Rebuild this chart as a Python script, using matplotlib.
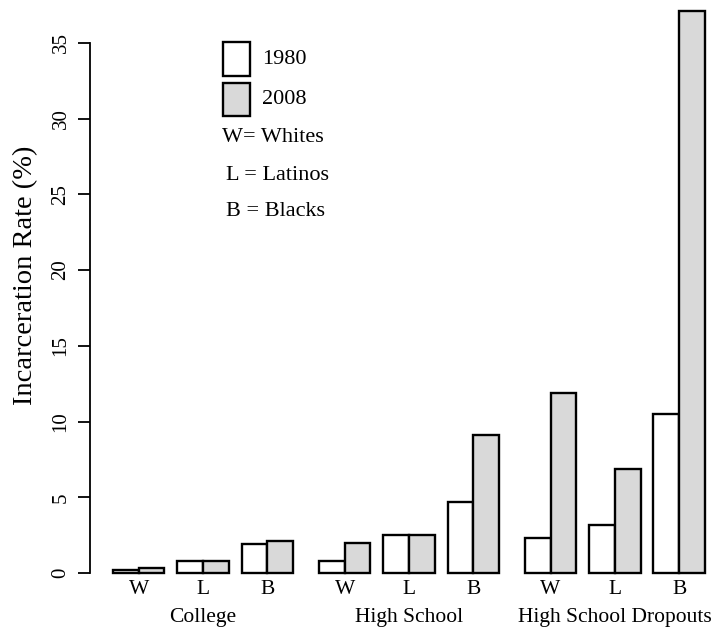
import matplotlib
matplotlib.use("Agg")
import matplotlib.pyplot as plt
from matplotlib.patches import Rectangle

plt.rcParams['font.family'] = ['Liberation Serif', 'DejaVu Serif']

groups = ["College", "High School", "High School Dropouts"]
races = ["W", "L", "B"]
rate_1980 = [[0.2, 0.8, 1.9], [0.8, 2.5, 4.7], [2.3, 3.2, 10.5]]
rate_2008 = [[0.3, 0.8, 2.1], [2.0, 2.5, 9.1], [11.9, 6.9, 37.1]]

W, H = 716, 630
fig = plt.figure(figsize=(W / 100, H / 100), dpi=100)

# axes placed so that the y axis line sits where the original one is
ax = fig.add_axes([90 / W, 57 / H, 626 / W, 575.5 / H])
ax.set_xlim(-0.894, 23.43)
ax.set_ylim(0, 38)

pair_gap = 0.5
group_gap = 1.0
group_w = 3 * 2 + 2 * pair_gap + group_gap

for g, name in enumerate(groups):
    x0 = g * group_w
    for r, lab in enumerate(races):
        x = x0 + r * (2 + pair_gap)
        ax.bar(x, rate_1980[g][r], width=1, align='edge', color='white',
               edgecolor='black', linewidth=1.7, clip_on=False)
        ax.bar(x + 1, rate_2008[g][r], width=1, align='edge', color='#d9d9d9',
               edgecolor='black', linewidth=1.7, clip_on=False)
        ax.text(x + 1, -0.028, lab, transform=ax.get_xaxis_transform(),
                ha='center', va='center', fontsize=15.5)
    ax.text(x0 + 3.5, -0.077, name, transform=ax.get_xaxis_transform(),
            ha='center', va='center', fontsize=15.5)

for s in ['top', 'right', 'bottom']:
    ax.spines[s].set_visible(False)
ax.spines['left'].set_bounds(0, 35)
ax.spines['left'].set_linewidth(1.3)
ax.set_xticks([])
ax.set_yticks(range(0, 36, 5))
ax.set_yticklabels([str(v) for v in range(0, 36, 5)], rotation=90, va='center',
                   fontsize=15)
ax.tick_params(axis='y', length=9, width=1.3, pad=5)

fig.text(26 / W, 1 - 275 / H, "Incarceration Rate (%)", rotation=90,
         ha='center', va='center', fontsize=20.5)


def px(x, y):
    return x / W, 1 - y / H


# legend drawn by hand, like the original
for (top, bot), txt, col in [((42, 76), "1980", 'white'), ((83, 116), "2008", '#d9d9d9')]:
    fig.add_artist(Rectangle(px(223, bot), 27 / W, (bot - top) / H,
                             transform=fig.transFigure, facecolor=col,
                             edgecolor='black', linewidth=1.7))
    fig.text(*px(262, (top + bot) / 2), txt, ha='left', va='center', fontsize=16)

fig.text(*px(222, 138), "W= Whites", ha='left', va='center', fontsize=16)
fig.text(*px(226, 176), "L = Latinos", ha='left', va='center', fontsize=16)
fig.text(*px(226, 212), "B = Blacks", ha='left', va='center', fontsize=16)

fig.savefig("out.png", dpi=100)
